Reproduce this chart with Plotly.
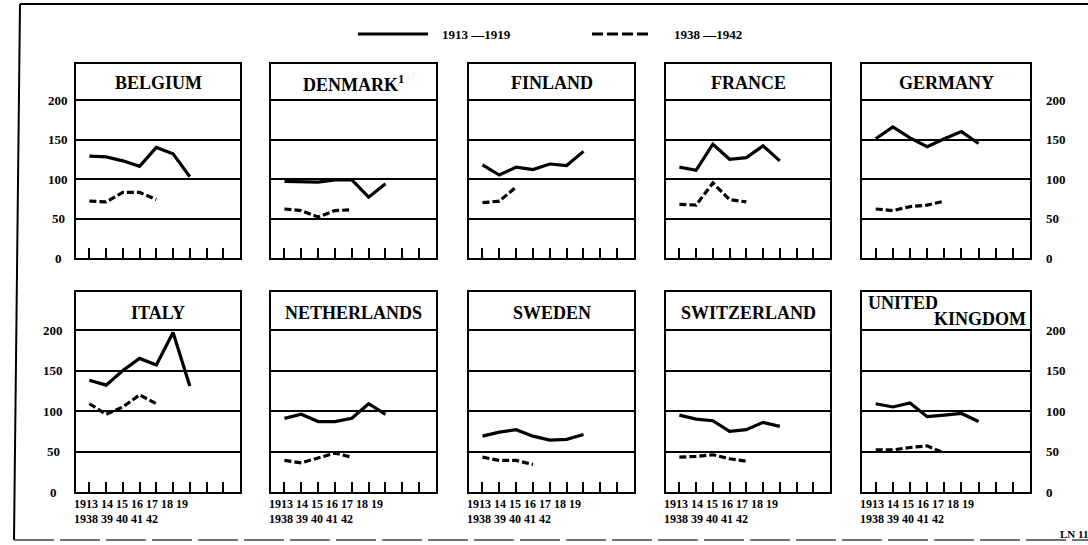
import plotly.graph_objects as go

# ---------------- data ----------------
countries = ["BELGIUM", "DENMARK<sup>1</sup>", "FINLAND", "FRANCE", "GERMANY",
             "ITALY", "NETHERLANDS", "SWEDEN", "SWITZERLAND", "UNITED KINGDOM"]
years_1913 = [1913, 1914, 1915, 1916, 1917, 1918, 1919]
years_1938 = [1938, 1939, 1940, 1941, 1942]

belgium_1913 = [129, 128, 123, 116, 140, 132, 103]
belgium_1938 = [72, 71, 83, 83, 74]
denmark_1913 = [97, 97, 96, 99, 99, 77, 94]
denmark_1938 = [62, 60, 52, 60, 61]
finland_1913 = [118, 105, 115, 112, 119, 117, 135]
finland_1938 = [70, 72, 90]
france_1913 = [115, 111, 144, 125, 127, 142, 123]
france_1938 = [68, 67, 95, 74, 71]
germany_1913 = [151, 166, 152, 141, 151, 160, 145]
germany_1938 = [62, 60, 65, 67, 72]
italy_1913 = [138, 132, 150, 165, 157, 197, 131]
italy_1938 = [109, 96, 105, 120, 109]
netherlands_1913 = [91, 96, 87, 87, 91, 109, 96]
netherlands_1938 = [39, 36, 42, 48, 43]
sweden_1913 = [69, 74, 77, 69, 64, 65, 71]
sweden_1938 = [43, 39, 39, 34]
switzerland_1913 = [95, 90, 88, 75, 77, 86, 81]
switzerland_1938 = [43, 44, 46, 41, 38]
uk_1913 = [109, 105, 110, 93, 95, 97, 87]
uk_1938 = [52, 52, 55, 57, 48]

series_1913 = [belgium_1913, denmark_1913, finland_1913, france_1913, germany_1913,
               italy_1913, netherlands_1913, sweden_1913, switzerland_1913, uk_1913]
series_1938 = [belgium_1938, denmark_1938, finland_1938, france_1938, germany_1938,
               italy_1938, netherlands_1938, sweden_1938, switzerland_1938, uk_1938]

y_ticks = [0, 50, 100, 150, 200]
grid_vals = [50, 100, 150, 200]
n_ticks = 9
x_label_line1 = "1913 14 15 16 17 18 19"
x_label_line2 = "1938 39 40 41 42"
legend_labels = ["1913 \u20141919", "1938 \u20141942"]

# ---------------- layout geometry (pixels, screen coords) ----------------
W, H = 1088, 545


def px(x):
    return x / W


def py(y):
    return 1 - y / H


cols = [(76, 240), (271, 436), (469, 634), (666, 830), (862, 1030)]
rows = [(64, 258), (292, 492)]
yranges = [[0, 245.6], [0, 247]]
xrange_ = [-0.8, 9.0]

FONT = "Liberation Serif"

fig = go.Figure()
layout = dict(width=W, height=H, margin=dict(l=0, r=0, t=0, b=0),
              paper_bgcolor="white", plot_bgcolor="white", showlegend=False)
annotations = []
shapes = []

for i in range(10):
    r, c = divmod(i, 5)
    n = i + 1
    sfx = "" if n == 1 else str(n)
    l, rr = cols[c]
    t, b = rows[r]
    layout["xaxis" + sfx] = dict(
        domain=[px(l), px(rr)], range=xrange_, anchor="y" + sfx,
        tickvals=list(range(n_ticks)), ticks="inside", ticklen=10, tickwidth=1.5,
        tickcolor="black", showticklabels=False, showline=True, mirror=True,
        linecolor="black", linewidth=2, showgrid=False, zeroline=False, fixedrange=True)
    layout["yaxis" + sfx] = dict(
        domain=[py(b), py(t)], range=yranges[r], anchor="x" + sfx,
        tickvals=grid_vals, showgrid=True, gridcolor="black", gridwidth=1.6,
        showticklabels=False, ticks="", showline=True, mirror=True,
        linecolor="black", linewidth=2, zeroline=False, fixedrange=True)

    a = series_1913[i]
    bb = series_1938[i]
    fig.add_trace(go.Scatter(
        x=[y - years_1913[0] for y in years_1913[:len(a)]], y=a,
        mode="lines", line=dict(color="black", width=3.2),
        xaxis="x" + sfx, yaxis="y" + sfx, name=legend_labels[0]))
    fig.add_trace(go.Scatter(
        x=[y - years_1938[0] for y in years_1938[:len(bb)]], y=bb,
        mode="lines", line=dict(color="black", width=3.2, dash="7px,3px"),
        xaxis="x" + sfx, yaxis="y" + sfx, name=legend_labels[1]))

    # titles
    if countries[i] == "UNITED KINGDOM":
        annotations.append(dict(xref="paper", yref="paper", x=px(l + 4), y=py(303),
                                xanchor="left", yanchor="middle", showarrow=False,
                                text="<b>UNITED</b>", font=dict(family=FONT, size=18, color="black")))
        annotations.append(dict(xref="paper", yref="paper", x=px(rr - 2), y=py(319),
                                xanchor="right", yanchor="middle", showarrow=False,
                                text="<b>KINGDOM</b>", font=dict(family=FONT, size=18, color="black")))
    else:
        ymid = 83 if r == 0 else 313
        annotations.append(dict(xref="paper", yref="paper", x=px((l + rr) / 2), y=py(ymid),
                                xanchor="center", yanchor="middle", showarrow=False,
                                text="<b>" + countries[i] + "</b>",
                                font=dict(family=FONT, size=18, color="black")))

    # y tick labels
    if c == 0:
        xc = 58 if r == 0 else 53
        for v in y_ticks:
            annotations.append(dict(xref="paper", yref="y" + sfx, x=px(xc), y=v,
                                    xanchor="center", yanchor="middle", showarrow=False,
                                    text="<b>%d</b>" % v,
                                    font=dict(family=FONT, size=13, color="black")))
    if c == 4:
        for v in y_ticks:
            annotations.append(dict(xref="paper", yref="y" + sfx, x=px(1044), y=v,
                                    xanchor="left", yanchor="middle", showarrow=False,
                                    text="<b>%d</b>" % v,
                                    font=dict(family=FONT, size=13, color="black")))
    # x tick labels (bottom row)
    if r == 1:
        xl = l - 4
        annotations.append(dict(xref="paper", yref="paper", x=px(xl), y=py(504),
                                xanchor="left", yanchor="middle", showarrow=False,
                                text="<b>" + x_label_line1 + "</b>",
                                font=dict(family=FONT, size=12, color="black")))
        annotations.append(dict(xref="paper", yref="paper", x=px(xl), y=py(519),
                                xanchor="left", yanchor="middle", showarrow=False,
                                text="<b>" + x_label_line2 + "</b>",
                                font=dict(family=FONT, size=12, color="black")))

# legend
shapes.append(dict(type="line", xref="paper", yref="paper", x0=px(358), x1=px(428),
                   y0=py(34), y1=py(34), line=dict(color="black", width=3)))
shapes.append(dict(type="line", xref="paper", yref="paper", x0=px(592), x1=px(652),
                   y0=py(34), y1=py(34),
                   line=dict(color="black", width=3, dash="11px,4px")))
annotations.append(dict(xref="paper", yref="paper", x=px(440), y=py(34),
                        xanchor="left", yanchor="middle", showarrow=False,
                        text="<b>" + legend_labels[0] + "</b>",
                        font=dict(family=FONT, size=13, color="black")))
annotations.append(dict(xref="paper", yref="paper", x=px(672), y=py(34),
                        xanchor="left", yanchor="middle", showarrow=False,
                        text="<b>" + legend_labels[1] + "</b>",
                        font=dict(family=FONT, size=13, color="black")))

# outer frame
shapes.append(dict(type="line", xref="paper", yref="paper", x0=px(20), x1=1.0,
                   y0=py(4), y1=py(4), line=dict(color="black", width=2)))
shapes.append(dict(type="line", xref="paper", yref="paper", x0=px(20), x1=px(14),
                   y0=py(4), y1=py(540), line=dict(color="black", width=2)))
shapes.append(dict(type="line", xref="paper", yref="paper", x0=px(14), x1=1.0,
                   y0=py(540), y1=py(540),
                   line=dict(color="#444", width=1.5, dash="40px,6px")))

annotations.append(dict(xref="paper", yref="paper", x=px(1058), y=py(534),
                        xanchor="left", yanchor="middle", showarrow=False,
                        text="<b>LN 113</b>", font=dict(family=FONT, size=11, color="black")))

layout["annotations"] = annotations
layout["shapes"] = shapes
fig.update_layout(**layout)
fig.write_html("out.html", config={"displayModeBar": False},
               post_script="document.body.style.margin='0';document.body.style.overflow='hidden';")
